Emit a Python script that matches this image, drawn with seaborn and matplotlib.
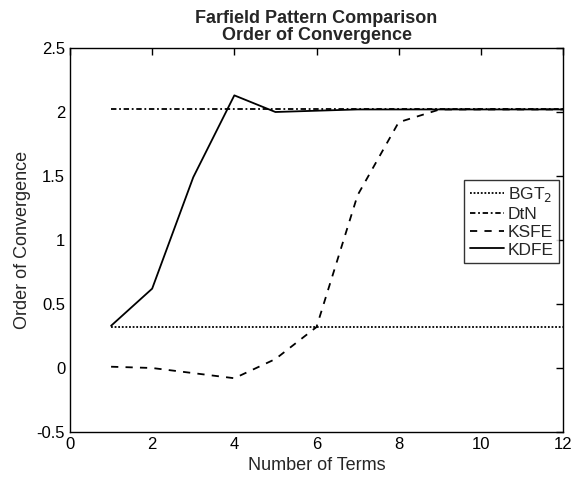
import matplotlib
matplotlib.use("Agg")
import matplotlib.pyplot as plt
import seaborn as sns
import pandas as pd

terms = [1, 2, 3, 4, 5, 6, 7, 8, 9, 10, 11, 12]
bgt2 = [0.32] * 12
dtn = [2.02] * 12
ksfe = [0.01, 0.0, -0.04, -0.08, 0.07, 0.32, 1.35, 1.92, 2.02, 2.02, 2.02, 2.02]
kdfe = [0.33, 0.62, 1.49, 2.13, 2.00, 2.01, 2.02, 2.02, 2.02, 2.02, 2.02, 2.02]

sns.set_style("white")
plt.rcParams['font.family'] = ['Liberation Sans', 'DejaVu Sans']

fig = plt.figure(figsize=(5.71, 4.80), dpi=100)
ax = fig.add_axes([70/571, 48/480, (563-70)/571, (432-48)/480])

series = [("BGT$_2$", bgt2, (0, (1, 1))),
          ("DtN", dtn, (0, (3, 1.5, 1, 1.5))),
          ("KSFE", ksfe, (0, (4, 4))),
          ("KDFE", kdfe, "-")]
for name, vals, ls in series:
    sns.lineplot(x=terms, y=vals, ax=ax, color="black", linewidth=1.3,
                 linestyle=ls, label=name)

ax.set_xlim(0, 12)
ax.set_ylim(-0.5, 2.5)
ax.set_xticks([0, 2, 4, 6, 8, 10, 12])
ax.set_yticks([-0.5, 0, 0.5, 1, 1.5, 2, 2.5])
ax.set_yticklabels(["-0.5", "0", "0.5", "1", "1.5", "2", "2.5"])
ax.tick_params(direction="in", top=True, right=True, length=5, labelsize=12, width=1, colors="black")
for s in ax.spines.values():
    s.set_color("black")
    s.set_linewidth(1)
ax.set_xlabel("Number of Terms", fontsize=13)
ax.set_ylabel("Order of Convergence", fontsize=13)
ax.set_title("Farfield Pattern Comparison\nOrder of Convergence", fontsize=13,
             fontweight="bold", linespacing=1.0)
leg = ax.legend(loc="upper right", bbox_to_anchor=(0.992, 0.656), fontsize=12.5,
                frameon=True, fancybox=False, edgecolor="black", handlelength=2.0,
                handletextpad=0.2, borderpad=0.3, labelspacing=0.15, borderaxespad=0)
leg.get_frame().set_linewidth(1)
fig.savefig("out.png", dpi=100)
